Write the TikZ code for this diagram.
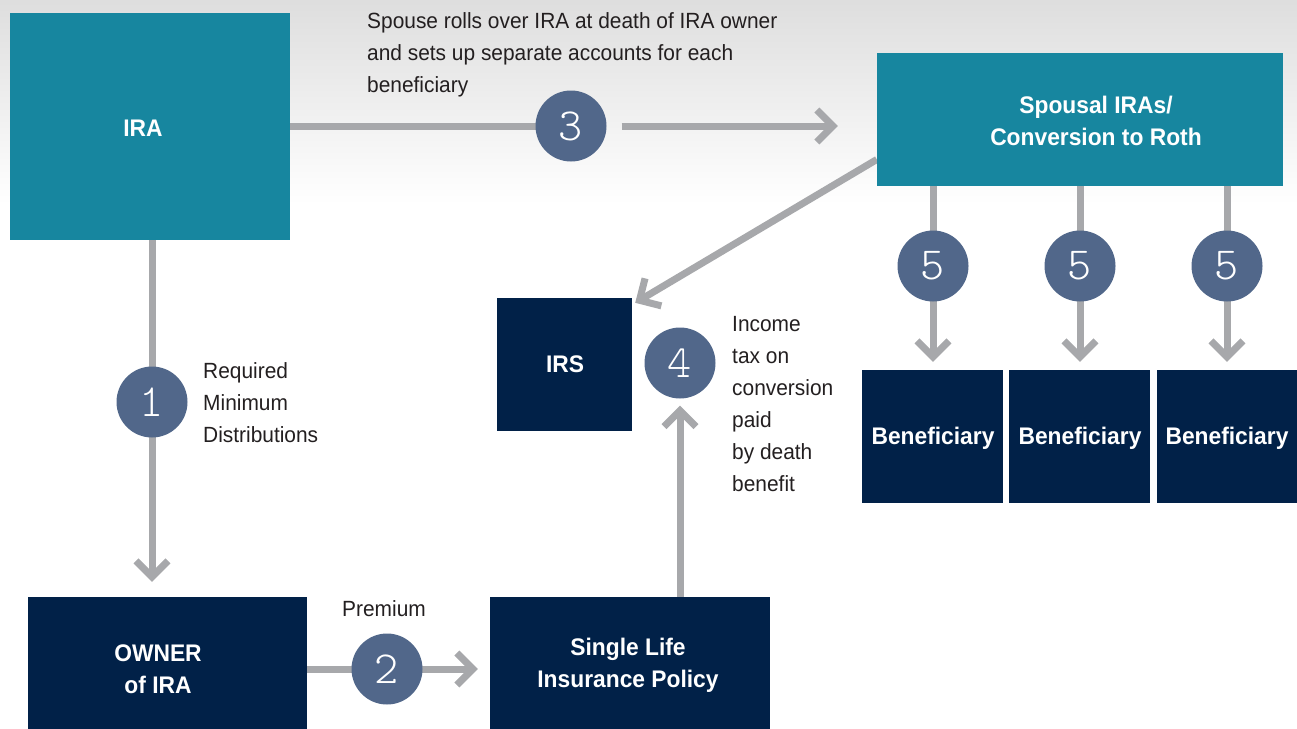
\documentclass[tikz,border=0pt]{standalone}
\usepackage{fontspec}
\setmainfont{Liberation Sans}[FakeStretch=0.95]
\newfontfamily\digfont{lmmonolt10-regular.otf}
\usetikzlibrary{arrows.meta}
\definecolor{teal0}{HTML}{17869F}
\definecolor{navy0}{HTML}{012148}
\definecolor{circ}{HTML}{51678A}
\definecolor{arr}{HTML}{A7A8AB}
\definecolor{txt}{HTML}{231F20}
\pgfdeclarelayer{back}\pgfdeclarelayer{bg}\pgfsetlayers{back,bg,main}
\begin{document}
\begin{tikzpicture}[x=1pt,y=-1pt,
  tbox/.style={fill=teal0, draw=none, inner sep=0},
  nbox/.style={fill=navy0, draw=none, inner sep=0},
  btxt/.style={text=white, align=center, inner sep=0, font=\bfseries\fontsize{24}{32}\selectfont},
  lab/.style={text=txt, align=left, inner sep=0, font=\fontsize{22}{32}\selectfont},
  num/.style={circle, fill=circ, draw=none, minimum size=71pt, inner sep=0, text=white, font=\digfont\fontsize{46}{46}\selectfont},
  plainc/.style={draw=arr, line width=7pt},
  arrowc/.style={draw=arr, line width=7pt, -{Straight Barb[length=16pt, width=32pt]}}
]
\useasboundingbox (0,0) rectangle (1297,728);
\begin{pgfonlayer}{back}
\shade[top color=black!13, bottom color=white] (0,0) rectangle (1297,205);
\end{pgfonlayer}

% boxes
\node[tbox, minimum width=280, minimum height=227] (ira) at (150,126.5) {};
\node[tbox, minimum width=406, minimum height=133] (sp) at (1080,119.5) {};
\node[nbox, minimum width=135, minimum height=133] (irs) at (564.5,364.5) {};
\node[nbox, minimum width=141, minimum height=133] (b1) at (932.5,436.5) {};
\node[nbox, minimum width=141, minimum height=133] (b2) at (1079.5,436.5) {};
\node[nbox, minimum width=141, minimum height=133] (b3) at (1227.5,436.5) {};
\node[nbox, minimum width=279, minimum height=144] (own) at (167.5,669) {};
\node[nbox, minimum width=280, minimum height=144] (slp) at (630,669) {};

% box texts
\node[btxt] (iraT) at (143,128) {IRA};
\node[btxt] (spT) at (1096,121) {Spousal IRAs/\\Conversion to Roth};
\node[btxt] (irsT) at (565,364) {IRS};
\node[btxt] (b1T) at (933,438) {Beneficiary};
\node[btxt] (b2T) at (1080,438) {Beneficiary};
\node[btxt] (b3T) at (1227,438) {Beneficiary};
\node[btxt] (ownT) at (158,669) {OWNER\\of IRA};
\node[btxt] (slpT) at (628,665) {Single Life\\Insurance Policy};

% numbered circles
\node[num] (c1) at (152,402) {1};
\node[num] (c2) at (387,669) {2};
\node[num] (c3) at (571,126) {3};
\node[num] (c4) at (680,363) {4};
\node[num] (c5a) at (933,266) {5};
\node[num] (c5b) at (1080,266) {5};
\node[num] (c5c) at (1227,266) {5};

% labels
\node[lab, anchor=north west] (t3) at (367,12) {Spouse rolls over IRA at death of IRA owner\\and sets up separate accounts for each\\beneficiary};
\node[lab, anchor=north west] (t1) at (203,362) {Required\\Minimum\\Distributions};
\node[lab, anchor=north] (t2) at (384,600) {Premium};
\node[lab, anchor=north west] (t4) at (732,316) {Income\\tax on\\conversion\\paid\\by death\\benefit};

% connectors
\begin{pgfonlayer}{bg}
\draw[arrowc, shorten >=15pt] (ira.south -| c1) -- (own.north -| c1);
\draw[arrowc, shorten >=12pt] (own.east |- c2) -- (slp.west |- c2);
\draw[plainc] (ira.east |- c3) -- (c3.center);
\draw[arrowc, shorten <=15pt, shorten >=39pt] (c3.east) -- (sp.west |- c3);
\draw[arrowc, shorten >=7pt] (slp.north -| c4) -- (c4.south);
\draw[arrowc] ([yshift=-40pt]sp.west) -- ([shift={(3pt,-5pt)}]irs.north east);
\draw[arrowc, shorten >=8pt] (sp.south -| c5a) -- (b1.north -| c5a);
\draw[arrowc, shorten >=8pt] (sp.south -| c5b) -- (b2.north -| c5b);
\draw[arrowc, shorten >=8pt] (sp.south -| c5c) -- (b3.north -| c5c);
\end{pgfonlayer}
\end{tikzpicture}
\end{document}
